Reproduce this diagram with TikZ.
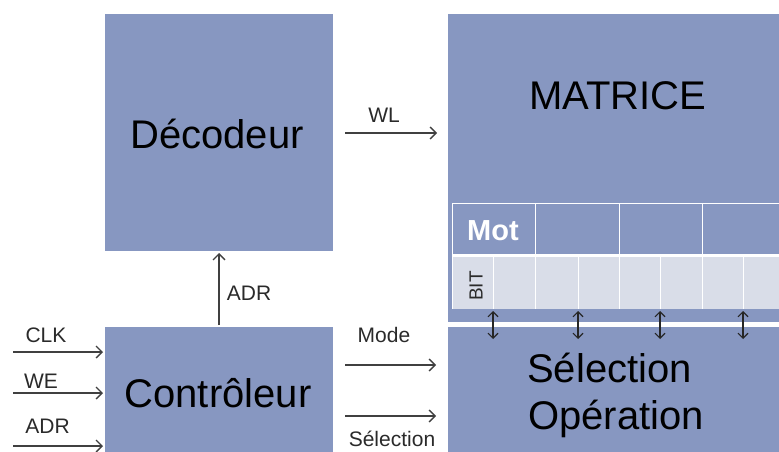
\documentclass[tikz,border=0pt]{standalone}
\usepackage{fontspec}
\setmainfont{Liberation Sans}
\usetikzlibrary{arrows.meta,shadows}
\definecolor{boxblue}{HTML}{8797C1}
\definecolor{bitgray}{HTML}{D9DDE8}
\definecolor{arrowgray}{HTML}{404040}
\definecolor{labelcol}{HTML}{2A2A2A}
\begin{document}
\begin{tikzpicture}[x=1pt,y=-1pt,
  blk/.style={draw=white, line width=4pt, fill=boxblue, inner sep=0pt, outer sep=0pt,
    drop shadow={shadow xshift=1.2pt, shadow yshift=-1.2pt, opacity=0.22, fill=black}},
  bigtxt/.style={font=\fontsize{40}{46}\selectfont, anchor=base, inner sep=0pt, text=black},
  lbl/.style={font=\fontsize{21}{25}\selectfont, anchor=base, inner sep=0pt, text=labelcol},
  arr/.style={draw=arrowgray, line width=1.3pt, -{Straight Barb[length=6pt,width=12pt,line width=1.3pt]}},
  darr/.style={draw=black!85, line width=1.1pt, {Straight Barb[length=5pt,width=10pt,line width=1.1pt]}-{Straight Barb[length=5pt,width=10pt,line width=1.1pt]}},
  grid/.style={draw=white, line width=1pt}
]
\useasboundingbox (0,0) rectangle (779,452);
\clip (0,0) rectangle (779,452);

% boxes
\node[blk, minimum width=232pt, minimum height=241pt] (dec) at (219,132.5) {};
\node[blk, minimum width=232pt, minimum height=195pt] (ctl) at (219,422.5) {};
\node[blk, minimum width=454pt, minimum height=312pt] (mat) at (673,168) {};
\node[blk, minimum width=454pt, minimum height=195pt] (sel) at (673,422.5) {};

% box texts
\node[bigtxt] (dectxt) at (217,148) {Décodeur};
\node[bigtxt] (ctltxt) at (218,407) {Contrôleur};
\node[bigtxt] (mattxt) at (618,110) {MATRICE};
\node[bigtxt] (seltxt1) at (609.5,382) {Sélection};
\node[bigtxt] (seltxt2) at (616,429) {Opération};

% table in the matrix
\fill[bitgray] (452,257) rectangle (800,309);
\draw[grid] (452,203) -- (800,203);
\draw[white, line width=3pt] (452,255.5) -- (800,255.5);
\foreach \x in {452,535,619,702} {\draw[grid] (\x,203) -- (\x,309);}
\foreach \x in {493,578,660,743} {\draw[grid] (\x,257) -- (\x,309);}
\node[font=\fontsize{29}{34}\selectfont\bfseries, text=white, anchor=base, inner sep=0pt] (mot) at (493,240) {Mot};
\node[font=\fontsize{19}{22}\selectfont, text=labelcol, rotate=90, inner sep=0pt] (bit) at (476,286) {BIT};

% bit connections
\foreach \i/\x in {1/493,2/578,3/660,4/743} {
  \coordinate (b\i) at (\x,311);
  \coordinate (s\i) at (\x,339);
  \draw[darr] (b\i) -- (s\i);
}

% WL
\coordinate (wlrow) at (0,133);
\draw[arr, shorten <=10pt, shorten >=9pt] (dec.east |- wlrow) -- (mat.west |- wlrow);
\node[lbl] (wl) at (384,122) {WL};

% ADR up
\draw[arr] (ctl.north) -- (dec.south);
\node[lbl] (adrup) at (249,300) {ADR};

% inputs
\coordinate (clkin) at (13,352);
\coordinate (wein) at (13,393);
\coordinate (adrin) at (13,446);
\draw[arr] (clkin) -- (ctl.west |- clkin);
\draw[arr] (wein) -- (ctl.west |- wein);
\draw[arr] (adrin) -- (ctl.west |- adrin);
\node[lbl] (clk) at (46,342) {CLK};
\node[lbl] (we) at (41,388) {WE};
\node[lbl] (adr) at (47.5,433) {ADR};

% outputs
\coordinate (moderow) at (0,365);
\coordinate (selrow) at (0,416);
\draw[arr, shorten <=10pt, shorten >=10pt] (ctl.east |- moderow) -- (sel.west |- moderow);
\draw[arr, shorten <=10pt, shorten >=10pt] (ctl.east |- selrow) -- (sel.west |- selrow);
\node[lbl] (mode) at (384,342) {Mode};
\node[lbl] (seltag) at (392,446) {Sélection};
\end{tikzpicture}
\end{document}
